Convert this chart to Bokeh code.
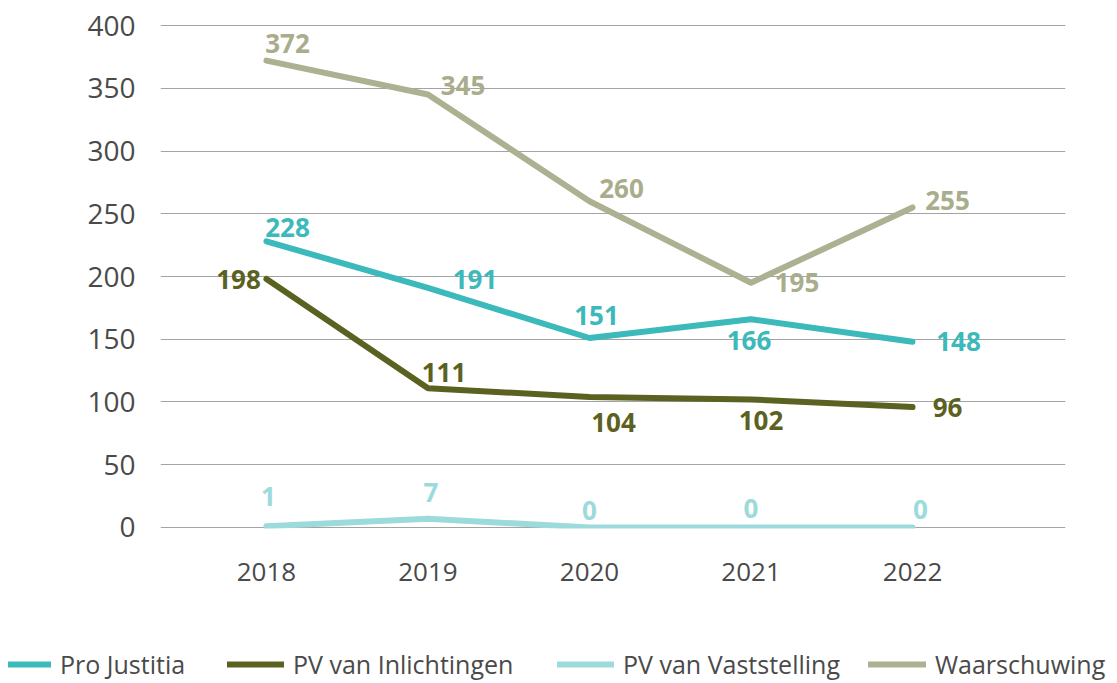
from bokeh.plotting import figure
from bokeh.models import Range1d, FixedTicker, Legend, LegendItem, ColumnDataSource
from bokeh.layouts import column
from bokeh.embed import file_html
from bokeh.resources import INLINE
from bokeh.core.properties import value

years = [2018, 2019, 2020, 2021, 2022]
pro_justitia = [228, 191, 151, 166, 148]
pv_inlichtingen = [198, 111, 104, 102, 96]
pv_vaststelling = [1, 7, 0, 0, 0]
waarschuwing = [372, 345, 260, 195, 255]
series_names = ["Pro Justitia", "PV van Inlichtingen", "PV van Vaststelling", "Waarschuwing"]
y_ticks = [0, 50, 100, 150, 200, 250, 300, 350, 400]

colors = ["#3bb9bb", "#5b6221", "#9cdadb", "#adb091"]
label_colors = ["#3bb9bb", "#5b6221", "#9cdadb", "#a9ad8c"]

# label offsets (screen px) per series, per year
offsets = [
    ([21, 47, 7, -2, 46], [-14, -8, -22, 21, 0]),
    ([-28, 16, 24, 10, 35], [0, -16, 26, 21, 0]),
    ([2, 3, 0, 0, 8], [-30, -26, -17, -19, -18]),
    ([21, 35, 32, 46, 35], [-17, -9, -13, 0, -7]),
]
legend_x = [8, 227, 557, 868]
legend_glyph_w = [43, 57, 57, 58]

FONT = "Open Sans"

p = figure(width=1112, height=628, output_backend="svg", toolbar_location=None,
           x_range=Range1d(2017.344, 2022.947), y_range=Range1d(-0.8, 400.8),
           min_border_left=160, min_border_right=47, min_border_top=24, min_border_bottom=100)
p.frame_align = False
p.outline_line_color = None
p.xgrid.grid_line_color = None
p.ygrid.grid_line_color = "#a3a3a3"
p.ygrid.grid_line_width = 1
p.yaxis.ticker = FixedTicker(ticks=y_ticks)
p.xaxis.ticker = FixedTicker(ticks=years)
for ax in (p.xaxis, p.yaxis):
    ax.axis_line_color = None
    ax.major_tick_line_color = None
    ax.minor_tick_line_color = None
    ax.major_tick_out = 0
    ax.major_tick_in = 0
    ax.major_label_text_color = "#4a4a4a"
    ax.major_label_text_font = FONT
p.yaxis.major_label_text_font_size = "28px"
p.yaxis.major_label_standoff = 25
p.xaxis.major_label_text_font_size = "26px"
p.xaxis.major_label_standoff = 34

all_series = [pro_justitia, pv_inlichtingen, pv_vaststelling, waarschuwing]
order = [2, 1, 0, 3]
for i in order:
    vals = all_series[i]
    p.line(years, vals, line_color=colors[i], line_width=6, line_cap="round", line_join="round")
for i in order:
    vals = all_series[i]
    dx, dy = offsets[i]
    src = ColumnDataSource(dict(x=years, y=vals, t=[str(v) for v in vals], dx=dx, dy=dy))
    p.text(x="x", y="y", text="t", x_offset="dx", y_offset="dy", source=src,
           text_color=label_colors[i], text_font=value(FONT), text_font_style="bold",
           text_font_size="26px", text_align="center", text_baseline="middle")

# legend figure
lg = figure(width=1112, height=55, output_backend="svg", toolbar_location=None,
            x_range=Range1d(0, 1), y_range=Range1d(0, 1),
            x_axis_location=None, y_axis_location=None, min_border=0)
lg.frame_align = False
lg.outline_line_color = None
lg.grid.visible = False
for i, name in enumerate(series_names):
    r = lg.line(x=[-5, -4], y=[-5, -5], line_color=colors[i], line_width=6, line_cap="round")
    legend = Legend(items=[LegendItem(label=name, renderers=[r])], orientation="horizontal",
                    location=(legend_x[i], 2),
                    glyph_width=legend_glyph_w[i], glyph_height=20, label_height=20, label_standoff=9,
                    padding=0, margin=0, border_line_color=None,
                    background_fill_alpha=0, label_text_font=FONT,
                    label_text_font_size="25px", label_text_color="#4a4a4a")
    lg.add_layout(legend, "center")

layout = column(p, lg, spacing=0)
open("out.html", "w").write(file_html(layout, INLINE))
